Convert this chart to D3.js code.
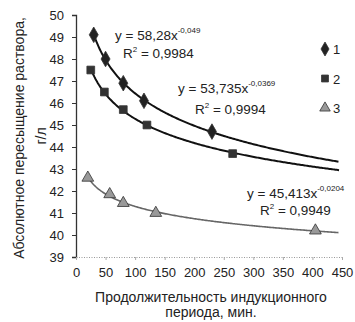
<!DOCTYPE html>
<html>
<head>
<meta charset="utf-8">
<script src="https://cdn.jsdelivr.net/npm/d3@7"></script>
<style>
  body { margin: 0; background: #fff; }
  text { font-family: "Liberation Sans", Arial, sans-serif; fill: #222; }
</style>
</head>
<body>
<div id="root"></div>
<script>
const width = 355;
const height = 322;

// data (minutes, g/l)
const x1 = [30, 50, 80, 115, 230];
const y1 = [49.1, 48.0, 46.9, 46.1, 44.7];
const x2 = [25, 48, 80, 120, 265];
const y2 = [47.5, 46.5, 45.7, 45.0, 43.7];
const x3 = [20, 57, 80, 135, 405];
const y3 = [42.6, 41.85, 41.45, 41.0, 40.2];
const seriesNames = ['1', '2', '3'];
const xTicks = [0, 50, 100, 150, 200, 250, 300, 350, 400, 450];
const yTicks = [39, 40, 41, 42, 43, 44, 45, 46, 47, 48, 49, 50];
const equations = [
  {coef: '58,28', exp: '-0,049', r2: '0,9984'},
  {coef: '53,735', exp: '-0,0369', r2: '0,9994'},
  {coef: '45,413', exp: '-0,0204', r2: '0,9949'}
];

const padding = {left: 76, right: 13, top: 15, bottom: 65};

const svg = d3.select('#root')
  .append('svg')
  .attr('width', width).attr('height', height);

const xScale = d3.scaleLinear()
  .domain([0, 450])
  .range([padding.left, width - padding.right]);
const yScale = d3.scaleLinear()
  .domain([39, 50])
  .range([height - padding.bottom, padding.top]);

// power trendline, least squares in log-log like the spreadsheet does
function powerFit(xs, ys) {
  const lx = xs.map(Math.log), ly = ys.map(Math.log);
  const mx = d3.mean(lx), my = d3.mean(ly);
  const b = d3.sum(lx, (v, i) => (v - mx) * (ly[i] - my)) / d3.sum(lx, v => (v - mx) * (v - mx));
  const a = Math.exp(my - b * mx);
  return x => a * Math.pow(x, b);
}

// axes
const yAxis = d3.axisLeft(yScale).tickValues(yTicks).tickSize(4).tickFormat(d3.format('d'));
const gy = svg.append('g')
  .attr('transform', `translate(${padding.left}, 0)`)
  .call(yAxis);
gy.select('.domain').attr('stroke', '#333').attr('stroke-width', 1.3);
gy.selectAll('.tick line').attr('stroke', '#333');
gy.selectAll('.tick text').attr('font-size', 13).attr('x', -12);

const xAxis = d3.axisBottom(xScale).tickValues(xTicks).tickSize(3);
const gx = svg.append('g')
  .attr('transform', `translate(0, ${yScale(39)})`)
  .call(xAxis);
gx.select('.domain').attr('stroke', '#999').attr('stroke-dasharray', '1,1.5');
gx.selectAll('.tick line').attr('stroke', '#aaa');
gx.selectAll('.tick text').attr('font-size', 13).attr('dy', '1.1em');

// axis titles
svg.append('text')
  .attr('transform', `translate(24, ${(padding.top + yScale(39)) / 2 + 2}) rotate(-90)`)
  .attr('text-anchor', 'middle')
  .attr('font-size', 14)
  .text('Абсолютное пересыщение раствора,');
svg.append('text')
  .attr('transform', `translate(46, ${(padding.top + yScale(39)) / 2}) rotate(-90)`)
  .attr('text-anchor', 'middle')
  .attr('font-size', 14)
  .text('г/л');
svg.append('text')
  .attr('x', 211).attr('y', 302)
  .attr('text-anchor', 'middle')
  .attr('font-size', 14)
  .text('Продолжительность индукционного');
svg.append('text')
  .attr('x', 211).attr('y', 317)
  .attr('text-anchor', 'middle')
  .attr('font-size', 14)
  .text('периода, мин.');

// trendlines
const series = [
  {xs: x1, ys: y1, color: '#111', width: 2, marker: d3.symbolDiamond, size: 70, fill: '#222'},
  {xs: x2, ys: y2, color: '#111', width: 2, marker: d3.symbolSquare, size: 60, fill: '#333'},
  {xs: x3, ys: y3, color: '#666', width: 1.6, marker: d3.symbolTriangle, size: 60, fill: '#999'}
];

const line = d3.line().x(d => xScale(d[0])).y(d => yScale(d[1]));

series.forEach(s => {
  const f = powerFit(s.xs, s.ys);
  const pts = d3.range(s.xs[0], 446, 2).map(x => [x, f(x)]);
  svg.append('path')
    .datum(pts)
    .attr('fill', 'none')
    .attr('stroke', s.color)
    .attr('stroke-width', s.width)
    .attr('d', line);
});

series.forEach(s => {
  svg.append('g').selectAll('path')
    .data(s.xs.map((x, i) => [x, s.ys[i]]))
    .enter().append('path')
    .attr('transform', d => `translate(${xScale(d[0])}, ${yScale(d[1])})`)
    .attr('d', d3.symbol().type(s.marker).size(s.size))
    .attr('fill', s.fill)
    .attr('stroke', '#333')
    .attr('stroke-width', 0.8);
});

// equation labels
const eqPos = [
  {x: 115, y: 40, rx: 123, ry: 58},
  {x: 178, y: 93, rx: 195, ry: 114},
  {x: 247, y: 198, rx: 260, ry: 215}
];
equations.forEach((e, i) => {
  const p = eqPos[i];
  const t = svg.append('text').attr('x', p.x).attr('y', p.y).attr('font-size', 13.5);
  t.append('tspan').text(`y = ${e.coef}x`);
  t.append('tspan').attr('dy', -7).attr('font-size', 8).text(e.exp);
  const r = svg.append('text').attr('x', p.rx).attr('y', p.ry).attr('font-size', 13.5);
  r.append('tspan').text('R');
  r.append('tspan').attr('dy', -6).attr('font-size', 8).text('2');
  r.append('tspan').attr('dy', 6).text(` = ${e.r2}`);
});

// legend
const legend = svg.append('g').attr('transform', 'translate(325, 49)');
series.forEach((s, i) => {
  const g = legend.append('g').attr('transform', `translate(0, ${i * 29.5})`);
  g.append('path')
    .attr('d', d3.symbol().type(s.marker).size(s.size * 0.8))
    .attr('fill', s.fill)
    .attr('stroke', '#333')
    .attr('stroke-width', 0.8);
  g.append('text')
    .attr('x', 8).attr('y', 5)
    .attr('font-size', 13)
    .text(seriesNames[i]);
});
</script>
</body>
</html>
